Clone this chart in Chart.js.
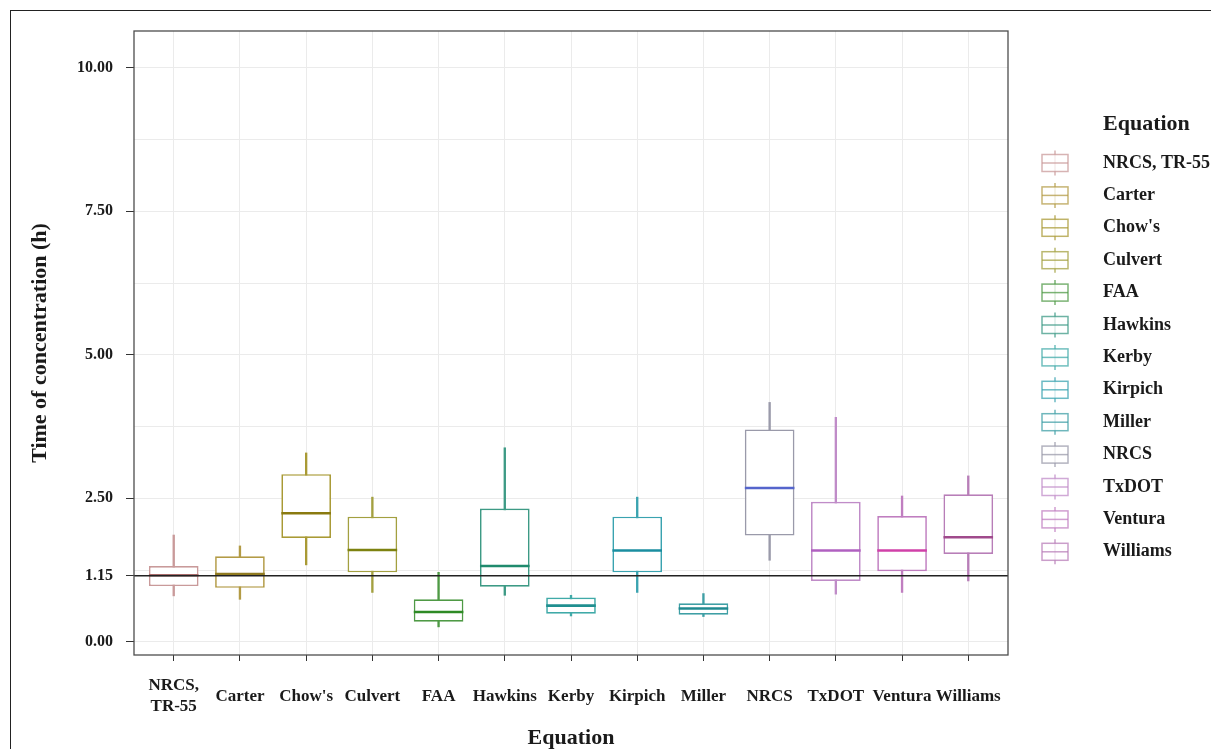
<!DOCTYPE html>
<html>
<head>
<meta charset="utf-8">
<script src="https://cdn.jsdelivr.net/npm/chart.js@4/dist/chart.umd.min.js"></script>
<style>
html, body { margin: 0; padding: 0; background: #fff; overflow: hidden; }
#wrap { position: relative; width: 1211px; height: 749px; }
</style>
</head>
<body>
<div id="wrap"><canvas id="c" width="1211" height="749"></canvas></div>
<script>
// ---------- data ----------
const CATEGORIES = ['NRCS, TR-55', 'Carter', "Chow's", 'Culvert', 'FAA', 'Hawkins', 'Kerby', 'Kirpich', 'Miller', 'NRCS', 'TxDOT', 'Ventura', 'Williams'];
const X_TICK_LABELS = [['NRCS,', 'TR-55'], 'Carter', "Chow's", 'Culvert', 'FAA', 'Hawkins', 'Kerby', 'Kirpich', 'Miller', 'NRCS', 'TxDOT', 'Ventura', 'Williams'];
const WHISKER_LOW  = [0.80, 0.74, 1.34, 0.86, 0.26, 0.81, 0.45, 0.86, 0.44, 1.42, 0.83, 0.86, 1.06];
const Q1           = [0.97, 0.94, 1.81, 1.21, 0.35, 0.96, 0.49, 1.21, 0.47, 1.85, 1.06, 1.23, 1.53];
const MEDIAN       = [1.16, 1.18, 2.24, 1.60, 0.52, 1.32, 0.63, 1.59, 0.58, 2.68, 1.59, 1.59, 1.82];
const Q3           = [1.32, 1.49, 2.92, 2.18, 0.74, 2.32, 0.77, 2.18, 0.67, 3.70, 2.44, 2.19, 2.57];
const WHISKER_HIGH = [1.86, 1.67, 3.29, 2.52, 1.21, 3.38, 0.81, 2.52, 0.84, 4.17, 3.91, 2.54, 2.89];
const Y_TICK_LABELS = [0, 1.15, 2.5, 5, 7.5, 10];
const Y_MINOR_GRID = [1.25, 3.75, 6.25, 8.75];
const REFERENCE_LINE = 1.15;
const X_TITLE = 'Equation';
const Y_TITLE = 'Time of concentration (h)';
const LEGEND_TITLE = 'Equation';

// ---------- styles ----------
const BOX_COLORS = ['#c99a9a', '#b39b45', '#a99a35', '#a3a040', '#4f9a45', '#3d9a85', '#40aaa8', '#3aa3b0', '#3f9fa5', '#9a9aaa', '#c08cc8', '#c07ec0', '#b87eb8'];
const MEDIAN_COLORS = ['#a86a6a', '#8f7a20', '#8a7a10', '#7d8210', '#2e8a25', '#1f8a6d', '#208f90', '#1a8ea0', '#208a90', '#5565cc', '#b060c0', '#d040a8', '#a04a8c'];
const SERIF = '"Liberation Serif", "Times New Roman", serif';
const TEXT_COLOR = '#1a1a1a';
const X_MIN = 0.4, X_MAX = 13.6;
const Y_MIN = -0.23, Y_MAX = 10.64;

const positions = CATEGORIES.map((_, i) => i + 1);

const framePlugin = {
  id: 'frame',
  beforeDraw(chart) {
    const c = chart.ctx;
    c.save();
    c.fillStyle = '#fff';
    c.fillRect(0, 0, chart.width, chart.height);
    c.strokeStyle = '#222';
    c.lineWidth = 1;
    c.strokeRect(10.5, 10.5, 1400, 1000);
    c.restore();
  },
  afterDraw(chart) {
    const c = chart.ctx;
    const a = chart.chartArea;
    c.save();
    c.strokeStyle = '#4d4d4d';
    c.lineWidth = 1.3;
    c.strokeRect(a.left, a.top, a.right - a.left, a.bottom - a.top);

    // legend
    c.fillStyle = TEXT_COLOR;
    c.textBaseline = 'middle';
    c.textAlign = 'left';
    c.font = 'bold 22px ' + SERIF;
    c.fillText(LEGEND_TITLE, 1103, 124);
    c.font = 'bold 18px ' + SERIF;
    CATEGORIES.forEach((name, i) => {
      const cy = 163 + i * 32.4;
      const cx = 1055;
      c.save();
      c.globalAlpha = 0.75;
      c.strokeStyle = BOX_COLORS[i];
      c.lineWidth = 1.5;
      c.beginPath();
      c.moveTo(cx, cy - 12.5); c.lineTo(cx, cy + 12.5);
      c.stroke();
      c.fillStyle = '#fff';
      c.fillRect(cx - 13, cy - 8.5, 26, 17);
      c.strokeRect(cx - 13, cy - 8.5, 26, 17);
      c.beginPath();
      c.moveTo(cx - 13, cy); c.lineTo(cx + 13, cy);
      c.stroke();
      c.restore();
      c.fillStyle = TEXT_COLOR;
      c.fillText(name, 1103, cy);
    });
    c.restore();
  }
};

new Chart(document.getElementById('c'), {
  type: 'bar',
  data: {
    datasets: [
      {
        type: 'line', label: 'reference',
        data: [{ x: X_MIN, y: REFERENCE_LINE }, { x: X_MAX, y: REFERENCE_LINE }],
        borderColor: '#222', borderWidth: 1.6, pointRadius: 0, order: 0
      },
      {
        type: 'line', label: 'median',
        data: positions.map((x, i) => ({ x, y: MEDIAN[i] })),
        showLine: false, pointStyle: 'line', pointRadius: 24.8, pointBorderWidth: 2.6,
        pointBorderColor: MEDIAN_COLORS, pointBackgroundColor: MEDIAN_COLORS, order: 1
      },
      {
        type: 'bar', label: 'box',
        data: positions.map((x, i) => ({ x, y: [Q1[i], Q3[i]] })),
        backgroundColor: '#ffffff', borderColor: BOX_COLORS, borderWidth: 1.7,
        borderSkipped: false, barPercentage: 0.75, categoryPercentage: 1, grouped: false, order: 2
      },
      {
        type: 'bar', label: 'whisker',
        data: positions.map((x, i) => ({ x, y: [WHISKER_LOW[i], WHISKER_HIGH[i]] })),
        backgroundColor: BOX_COLORS, borderWidth: 0, barThickness: 1.7, grouped: false, order: 3
      }
    ]
  },
  options: {
    responsive: false,
    animation: false,
    events: [],
    layout: { padding: { top: 31, right: 203, left: 0, bottom: 0 } },
    plugins: { legend: { display: false }, tooltip: { enabled: false } },
    scales: {
      x: {
        type: 'linear', min: X_MIN, max: X_MAX, offset: false,
        afterBuildTicks: s => { s.ticks = positions.map(v => ({ value: v })); },
        afterFit: s => { s.height = 94; },
        ticks: {
          autoSkip: false, maxRotation: 0, minRotation: 0, crossAlign: 'center', padding: 25,
          color: TEXT_COLOR, font: { family: SERIF, weight: 'bold', size: 17, lineHeight: 1.24 },
          callback: v => X_TICK_LABELS[v - 1] ?? ''
        },
        grid: { offset: false, color: '#ebebeb', lineWidth: 1, tickColor: '#333', tickLength: 6 },
        border: { display: false },
        title: {
          display: true, text: X_TITLE, color: TEXT_COLOR,
          font: { family: SERIF, weight: 'bold', size: 22, lineHeight: 1 },
          padding: { top: 0, bottom: 0 }
        }
      },
      y: {
        type: 'linear', min: Y_MIN, max: Y_MAX,
        afterBuildTicks: s => {
          s.ticks = [...Y_TICK_LABELS, ...Y_MINOR_GRID].sort((a, b) => a - b).map(v => ({ value: v }));
        },
        afterFit: s => { s.width = 134; },
        ticks: {
          autoSkip: false, padding: 13, color: TEXT_COLOR,
          font: { family: SERIF, weight: 'bold', size: 16 },
          callback: v => Y_TICK_LABELS.includes(v) ? v.toFixed(2) : ''
        },
        grid: {
          color: ctx => (ctx.tick && ctx.tick.value === REFERENCE_LINE) ? 'rgba(0,0,0,0)' : '#ebebeb',
          tickColor: ctx => (ctx.tick && Y_TICK_LABELS.includes(ctx.tick.value)) ? '#333' : 'rgba(0,0,0,0)',
          lineWidth: 1, tickLength: 8
        },
        border: { display: false },
        title: {
          display: true, text: Y_TITLE, color: TEXT_COLOR,
          font: { family: SERIF, weight: 'bold', size: 22, lineHeight: 1 },
          padding: { top: 29, bottom: 0 }
        }
      }
    }
  },
  plugins: [framePlugin]
});
</script>
</body>
</html>
